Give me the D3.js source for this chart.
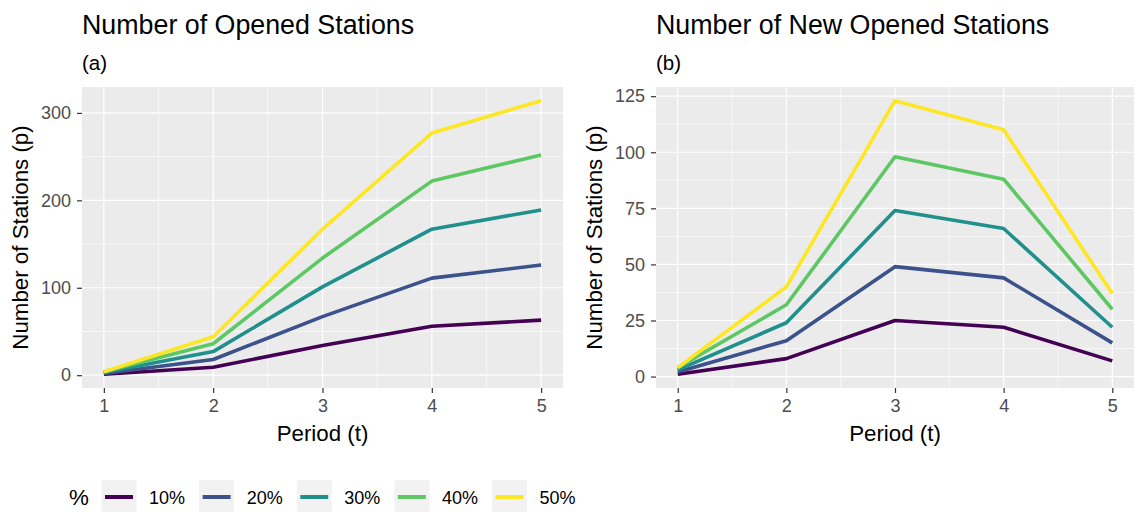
<!DOCTYPE html>
<html>
<head>
<meta charset="utf-8">
<script src="https://cdn.jsdelivr.net/npm/d3@7"></script>
<style>
  body { margin: 0; background: #fff; }
  svg { font-family: "Liberation Sans", Arial, Helvetica, sans-serif; }
</style>
</head>
<body>
<div id="chart"></div>
<script>
const periods = [1, 2, 3, 4, 5];
const shares = ["10%", "20%", "30%", "40%", "50%"];
const colors = ["#440154", "#3B528B", "#21908C", "#5DC863", "#FDE725"];

// new opened stations per period, one row per share
const newOpened = [
    [1, 8, 25, 22, 7],
    [2, 16, 49, 44, 15],
    [3, 24, 74, 66, 22],
    [4, 32, 98, 88, 30],
    [4, 40, 123, 110, 37]
];

// cumulative opened stations
const opened = [
    [1, 9, 34, 56, 63],
    [2, 18, 67, 111, 126],
    [3, 27, 101, 167, 189],
    [4, 36, 134, 222, 252],
    [4, 44, 167, 277, 314]
];

const leftTicks = [0, 100, 200, 300];
const leftMinor = [50, 150, 250];
const rightTicks = [0, 25, 50, 75, 100, 125];
const rightMinor = [12.5, 37.5, 62.5, 87.5, 112.5];
const xMinor = [1.5, 2.5, 3.5, 4.5];

const W = 1138, H = 512;
const svg = d3.select("#chart").append("svg")
    .attr("width", W).attr("height", H);

const expand = (lo, hi) => {
    const pad = (hi - lo) * 0.05;
    return [lo - pad, hi + pad];
};

const drawPanel = (cfg) => {
    const { left, right, top, bottom, data, ticks, minor, title, sub } = cfg;
    const all = data.flat();
    const x = d3.scaleLinear().domain(expand(1, 5)).range([left, right]);
    const y = d3.scaleLinear().domain(expand(d3.min(all), d3.max(all))).range([bottom, top]);

    const g = svg.append("g");

    g.append("rect")
        .attr("x", left).attr("y", top)
        .attr("width", right - left).attr("height", bottom - top)
        .attr("fill", "#EBEBEB");

    // minor grid
    g.selectAll(".ymin").data(minor).enter().append("line")
        .attr("x1", left).attr("x2", right)
        .attr("y1", d => y(d)).attr("y2", d => y(d))
        .attr("stroke", "#fff").attr("stroke-width", 0.6);
    g.selectAll(".xmin").data(xMinor).enter().append("line")
        .attr("y1", top).attr("y2", bottom)
        .attr("x1", d => x(d)).attr("x2", d => x(d))
        .attr("stroke", "#fff").attr("stroke-width", 0.6);

    // major grid
    g.selectAll(".ymaj").data(ticks).enter().append("line")
        .attr("x1", left).attr("x2", right)
        .attr("y1", d => y(d)).attr("y2", d => y(d))
        .attr("stroke", "#fff").attr("stroke-width", 1.2);
    g.selectAll(".xmaj").data(periods).enter().append("line")
        .attr("y1", top).attr("y2", bottom)
        .attr("x1", d => x(d)).attr("x2", d => x(d))
        .attr("stroke", "#fff").attr("stroke-width", 1.2);

    // lines
    const line = d3.line().x((d, i) => x(periods[i])).y(d => y(d));
    g.selectAll(".series").data(data).enter().append("path")
        .attr("d", line)
        .attr("fill", "none")
        .attr("stroke", (d, i) => colors[i])
        .attr("stroke-width", 3.6)
        .attr("stroke-linejoin", "round");

    // axes
    const xAxis = g.append("g")
        .attr("transform", `translate(0,${bottom})`)
        .call(d3.axisBottom(x).tickValues(periods).tickSize(5).tickPadding(6).tickFormat(d3.format("d")));
    const yAxis = g.append("g")
        .attr("transform", `translate(${left},0)`)
        .call(d3.axisLeft(y).tickValues(ticks).tickSize(5).tickPadding(6).tickFormat(d3.format("d")));
    [xAxis, yAxis].forEach(a => {
        a.select(".domain").remove();
        a.selectAll(".tick line").attr("stroke", "#333").attr("stroke-width", 1.2);
        a.selectAll(".tick text").attr("fill", "#4D4D4D").style("font-size", "18px")
            .style("font-family", "Liberation Sans, Arial, sans-serif");
    });

    g.append("text")
        .attr("x", left).attr("y", 34)
        .style("font-size", "26.8px").attr("fill", "#000")
        .text(title);
    g.append("text")
        .attr("x", left).attr("y", 70)
        .style("font-size", "20.5px").attr("fill", "#000")
        .text(sub);

    g.append("text")
        .attr("x", (left + right) / 2).attr("y", 441)
        .attr("text-anchor", "middle")
        .style("font-size", "22.3px").attr("fill", "#000")
        .text("Period (t)");

    g.append("text")
        .attr("transform", `translate(${left - 54},${(top + bottom) / 2}) rotate(-90)`)
        .attr("text-anchor", "middle")
        .style("font-size", "22.3px").attr("fill", "#000")
        .text("Number of Stations (p)");
};

drawPanel({
    left: 82, right: 563, top: 87, bottom: 388,
    data: opened, ticks: leftTicks, minor: leftMinor,
    title: "Number of Opened Stations", sub: "(a)"
});

drawPanel({
    left: 656, right: 1134, top: 87, bottom: 388,
    data: newOpened, ticks: rightTicks, minor: rightMinor,
    title: "Number of New Opened Stations", sub: "(b)"
});

// legend
const legend = svg.append("g");
legend.append("text")
    .attr("x", 69).attr("y", 505)
    .style("font-size", "22.3px").attr("fill", "#000")
    .text("%");

const keyX = d3.scalePoint().domain(shares).range([101.5, 492]);
const item = legend.selectAll(".key").data(shares).enter().append("g")
    .attr("transform", d => `translate(${keyX(d)},480)`);
item.append("rect")
    .attr("width", 35).attr("height", 35)
    .attr("fill", "#F2F2F2");
item.append("line")
    .attr("x1", 3.5).attr("x2", 31.5)
    .attr("y1", 17).attr("y2", 17)
    .attr("stroke", (d, i) => colors[i])
    .attr("stroke-width", 4);
item.append("text")
    .attr("x", 47.5).attr("y", 24)
    .style("font-size", "18px").attr("fill", "#000")
    .text(d => d);
</script>
</body>
</html>
